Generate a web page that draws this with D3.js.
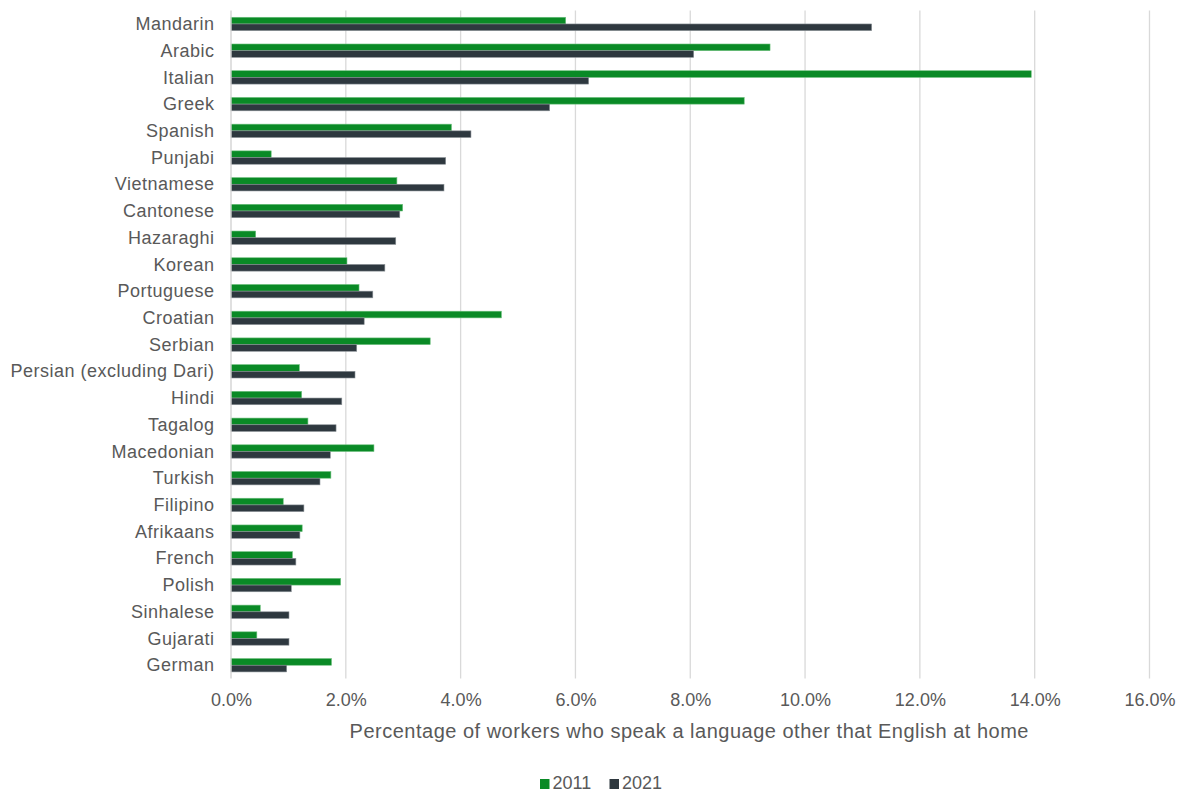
<!DOCTYPE html>
<html>
<head>
<meta charset="utf-8">
<script src="https://cdn.jsdelivr.net/npm/d3@7/dist/d3.min.js"></script>
<style>
  body { margin: 0; background: #fff; }
  svg { display: block; font-family: "Liberation Sans", Arial, sans-serif; }
</style>
</head>
<body>
<svg id="chart" width="1178" height="790"></svg>
<script>
const languages = ['Mandarin', 'Arabic', 'Italian', 'Greek', 'Spanish', 'Punjabi', 'Vietnamese',
  'Cantonese', 'Hazaraghi', 'Korean', 'Portuguese', 'Croatian', 'Serbian', 'Persian (excluding Dari)',
  'Hindi', 'Tagalog', 'Macedonian', 'Turkish', 'Filipino', 'Afrikaans', 'French', 'Polish',
  'Sinhalese', 'Gujarati', 'German'];
const y2011 = [5.83, 9.39, 13.94, 8.94, 3.84, 0.70, 2.89, 2.99, 0.43, 2.02, 2.23, 4.71, 3.47, 1.19,
  1.23, 1.34, 2.49, 1.74, 0.91, 1.24, 1.07, 1.91, 0.51, 0.45, 1.75];
const y2021 = [11.16, 8.06, 6.23, 5.55, 4.18, 3.74, 3.71, 2.94, 2.87, 2.68, 2.47, 2.32, 2.19, 2.16,
  1.93, 1.83, 1.73, 1.55, 1.27, 1.20, 1.13, 1.05, 1.01, 1.01, 0.97];
const seriesNames = ['2011', '2021'];
const colors = ['#0a8a26', '#2e383f'];
const xTicks = [0, 2, 4, 6, 8, 10, 12, 14, 16];

const svg = d3.select('#chart');
const margin = { top: 10.6, left: 231, right: 28.5, bottom: 111.4 };
const W = 1178, H = 790;
const innerW = W - margin.left - margin.right;
const innerH = H - margin.top - margin.bottom;

const x = d3.scaleLinear().domain([0, 16]).range([0, innerW]);
const y = d3.scaleBand().domain(languages).range([0, innerH]).paddingInner(0.5).paddingOuter(0.25);
const sub = d3.scaleBand().domain(seriesNames).range([0, y.bandwidth()]);

const g = svg.append('g').attr('transform', `translate(${margin.left},${margin.top})`);

// gridlines
g.append('g')
  .selectAll('line')
  .data(xTicks.slice(1))
  .join('line')
  .attr('x1', d => x(d)).attr('x2', d => x(d))
  .attr('y1', 0).attr('y2', innerH)
  .attr('stroke', '#d9d9d9').attr('stroke-width', 1.3);

// bars
const rows = languages.map((l, i) => ({ name: l, vals: [y2011[i], y2021[i]] }));
const grp = g.selectAll('g.row').data(rows).join('g')
  .attr('class', 'row')
  .attr('transform', d => `translate(0,${y(d.name)})`);
grp.selectAll('rect')
  .data(d => d.vals.map((v, k) => ({ v, k })))
  .join('rect')
  .attr('x', 0)
  .attr('y', d => sub(seriesNames[d.k]))
  .attr('width', d => x(d.v))
  .attr('height', sub.bandwidth())
  .attr('fill', d => colors[d.k])
  .attr('stroke', d => d.k === 0 ? '#6cbf7c' : '#8a9196')
  .attr('stroke-width', 0.6);

// vertical axis line
g.append('line')
  .attr('x1', 0).attr('x2', 0).attr('y1', 0).attr('y2', innerH)
  .attr('stroke', '#d0d0d0').attr('stroke-width', 1.3);

// y axis labels
const yAxis = d3.axisLeft(y).tickSize(0).tickPadding(16.5);
g.append('g').call(yAxis)
  .call(s => s.select('.domain').remove())
  .selectAll('text')
  .attr('fill', '#595959')
  .style('font-size', '18px')
  .style('letter-spacing', '0.5px')
  .attr('dy', '0.34em');

// x axis labels
const xAxis = d3.axisBottom(x).tickValues(xTicks).tickSize(0).tickPadding(15)
  .tickFormat(d => d.toFixed(1) + '%');
g.append('g').attr('transform', `translate(0,${innerH})`).call(xAxis)
  .call(s => s.select('.domain').remove())
  .selectAll('text')
  .attr('fill', '#595959')
  .style('font-size', '18px');

// axis title
svg.append('text')
  .attr('x', margin.left + innerW / 2 - 1)
  .attr('y', 738)
  .attr('text-anchor', 'middle')
  .attr('fill', '#595959')
  .style('font-size', '20px')
  .style('letter-spacing', '0.5px')
  .text('Percentage of workers who speak a language other that English at home');

// legend
const leg = svg.append('g').attr('transform', 'translate(540,779)');
const items = leg.selectAll('g').data(seriesNames).join('g')
  .attr('transform', (d, i) => `translate(${i * 69.5},0)`);
items.append('rect').attr('width', 9.5).attr('height', 10).attr('y', 0)
  .attr('fill', (d, i) => colors[i]);
items.append('text').attr('x', 12.5).attr('y', 10)
  .attr('fill', '#595959').style('font-size', '18px')
  .text(d => d);
</script>
</body>
</html>
